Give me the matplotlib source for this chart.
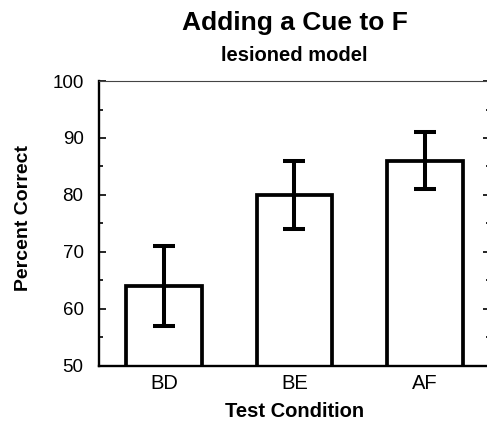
import matplotlib.pyplot as plt
from matplotlib.ticker import MultipleLocator

plt.rcParams['font.family'] = ['Liberation Sans', 'DejaVu Sans']

# data
conditions = ['BD', 'BE', 'AF']
percent_correct = [64, 80, 86]
err_low = [57, 74, 81]
err_high = [71, 86, 91]

yerr = [[p - lo for p, lo in zip(percent_correct, err_low)],
        [hi - p for p, hi in zip(percent_correct, err_high)]]

fig = plt.figure(figsize=(4.87, 4.22), dpi=100)
ax = fig.add_axes([0.203, 0.133, 0.803, 0.675])

x = range(len(conditions))
ax.bar(x, percent_correct, width=0.58, color='white', edgecolor='black',
       linewidth=2.7, zorder=2)
ax.errorbar(x, percent_correct, yerr=yerr, fmt='none', ecolor='black',
            elinewidth=2.9, capsize=8, capthick=2.9, zorder=3)

ax.set_xlim(-0.5, 2.5)
ax.set_ylim(50, 100)
ax.set_xticks(list(x))
ax.set_xticklabels(conditions, fontsize=14.5)
ax.yaxis.set_major_locator(MultipleLocator(10))
ax.yaxis.set_minor_locator(MultipleLocator(5))
ax.tick_params(axis='y', which='both', direction='in', left=True, right=True,
               labelsize=13.5, width=1.2, pad=11)
ax.tick_params(axis='y', which='major', length=5)
ax.tick_params(axis='y', which='minor', length=3)
ax.tick_params(axis='x', length=0, pad=6)

ax.spines['left'].set_linewidth(1.7)
ax.spines['bottom'].set_linewidth(1.7)
ax.spines['top'].set_linewidth(0.8)
ax.spines['top'].set_color('#444444')
ax.spines['right'].set_linewidth(1.2)

ax.set_ylabel('Percent Correct', fontsize=14, fontweight='bold')
ax.yaxis.set_label_coords(-0.171, 0.52)
ax.set_xlabel('Test Condition', fontsize=14.5, fontweight='bold')
ax.xaxis.set_label_coords(0.5, -0.126)

fig.text(0.605, 0.929, 'Adding a Cue to F', ha='center', va='baseline',
         fontsize=19, fontweight='bold')
fig.text(0.605, 0.856, 'lesioned model', ha='center', va='baseline',
         fontsize=14.5, fontweight='bold')

fig.savefig('out.png', dpi=100)
